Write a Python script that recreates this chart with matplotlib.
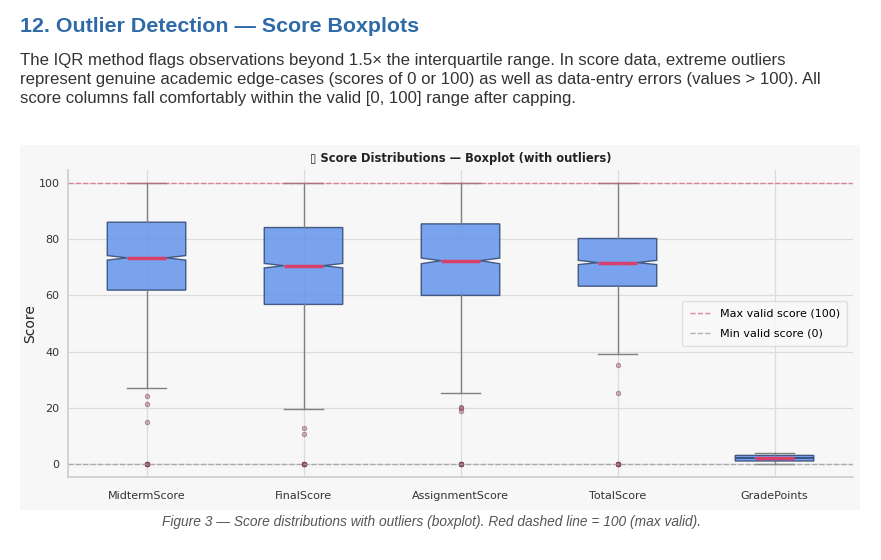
import matplotlib
matplotlib.use('Agg')
import matplotlib.pyplot as plt
from matplotlib.patches import Rectangle

# Datos
etiquetas = ['MidtermScore', 'FinalScore', 'AssignmentScore', 'TotalScore', 'GradePoints']
q1 = [61.9, 56.8, 60.0, 63.3, 1.0]
mediana = [73.4, 70.6, 72.4, 71.7, 2.0]
q3 = [86.1, 84.2, 85.5, 80.3, 3.0]
bigote_inf = [27.0, 19.5, 25.2, 39.1, 0.0]
bigote_sup = [100.0, 100.0, 100.0, 100.0, 4.0]
muesca_inf = [72.6, 69.8, 71.3, 71.0, 1.93]
muesca_sup = [74.2, 71.4, 73.3, 72.5, 2.07]
atipicos = [
    [24.0, 21.4, 14.8, 0, 0, 0, 0, 0, 0],
    [12.9, 10.8, 0, 0, 0, 0, 0, 0],
    [20.4, 19.8, 18.9, 0, 0, 0, 0, 0, 0],
    [35.2, 25.2, 0, 0, 0, 0, 0, 0],
    [],
]
max_valido = 100
min_valido = 0

W, H = 881, 560

def fx(px):
    return px / W

def fy(py):
    return 1 - py / H

fig = plt.figure(figsize=(W / 100, H / 100), dpi=100)
fig.patch.set_facecolor('white')

# Texto de la pagina
fig.text(fx(20), fy(27), '12. Outlier Detection \u2014 Score Boxplots',
         family='Liberation Sans', fontsize=15.4, fontweight='bold',
         color='#2f6aa8', va='center', ha='left')
parrafo = [
    'The IQR method flags observations beyond 1.5\u00d7 the interquartile range. In score data, extreme outliers',
    'represent genuine academic edge-cases (scores of 0 or 100) as well as data-entry errors (values > 100). All',
    'score columns fall comfortably within the valid [0, 100] range after capping.',
]
for i, linea in enumerate(parrafo):
    fig.text(fx(20), fy(60 + 19.5 * i), linea, family='Liberation Sans',
             fontsize=12.1, color='#333333', va='center', ha='left')

# Panel del grafico
fig.patches.append(Rectangle((fx(20), fy(510)), fx(860) - fx(20), fy(145) - fy(510),
                             transform=fig.transFigure, facecolor='#f7f7f7',
                             edgecolor='none', zorder=-10))

ax = fig.add_axes([fx(68), fy(477), fx(853) - fx(68), fy(170) - fy(477)])
ax.set_facecolor('#f7f7f7')
ax.set_axisbelow(True)
ax.grid(True, color='#dcdcdc', lw=0.9)

stats = []
for i in range(len(etiquetas)):
    stats.append(dict(label=etiquetas[i], q1=q1[i], med=mediana[i], q3=q3[i],
                      whislo=bigote_inf[i], whishi=bigote_sup[i],
                      cilo=muesca_inf[i], cihi=muesca_sup[i], fliers=atipicos[i]))

ax.bxp(stats, positions=range(len(etiquetas)), widths=0.5, shownotches=True,
       patch_artist=True,
       boxprops=dict(facecolor='#6495ed', alpha=0.85, edgecolor='#2f4670', lw=1.0),
       medianprops=dict(color='#d6406a', lw=2.5),
       whiskerprops=dict(color='#808080', lw=1.0),
       capprops=dict(color='#808080', lw=1.0),
       flierprops=dict(marker='o', markersize=3.3, markerfacecolor='#a8687c',
                       markeredgecolor='#5e2234', markeredgewidth=0.5, alpha=0.5))

ax.axhline(max_valido, color='#e0607a', ls='--', lw=1.0, alpha=0.75,
           label='Max valid score (100)')
ax.axhline(min_valido, color='#999999', ls='--', lw=1.0, alpha=0.75,
           label='Min valid score (0)')

ax.set_xlim(-0.5, 4.5)
ax.set_ylim(-4.7, 104.7)
ax.set_yticks([0, 20, 40, 60, 80, 100])
ax.tick_params(length=0, labelsize=8, colors='#333333', pad=6)
ax.tick_params(axis='x', pad=10)
for lado in ['top', 'right']:
    ax.spines[lado].set_visible(False)
for lado in ['left', 'bottom']:
    ax.spines[lado].set_color('#cccccc')
    ax.spines[lado].set_linewidth(1.2)

ax.set_ylabel('Score', fontsize=10, color='#222222', labelpad=1)
ax.set_title('\u25af Score Distributions \u2014 Boxplot (with outliers)',
             fontsize=8.3, fontweight='bold', color='#222222', pad=6)

leg = ax.legend(loc='center right', fontsize=8, frameon=True, handlelength=1.9,
                labelspacing=0.9, borderpad=0.7)
leg.get_frame().set_facecolor('#f9f9f9')
leg.get_frame().set_edgecolor('#d8d8d8')

fig.text(fx(432), fy(522),
         'Figure 3 \u2014 Score distributions with outliers (boxplot). Red dashed line = 100 (max valid).',
         family='Liberation Sans', fontsize=9.9, style='italic', color='#555555',
         ha='center', va='center')

fig.savefig('out.png', dpi=100)
